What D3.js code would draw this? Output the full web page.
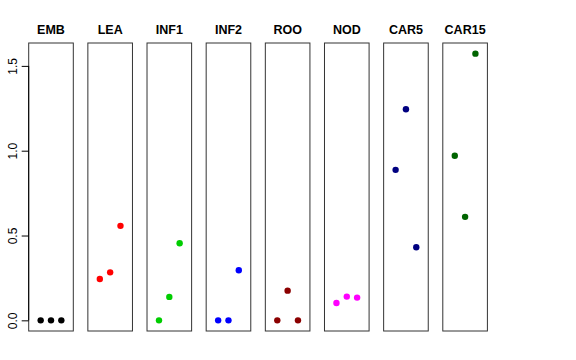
<!DOCTYPE html>
<html>
<head>
  <script src="https://d3js.org/d3.v7.min.js"></script>
  <style>
    body { margin: 0; background: #fff; }
    text { font-family: "Liberation Sans", Arial, Helvetica, sans-serif; }
  </style>
</head>
<body>
  <div id="chart"></div>

  <script>
    var categories = ["EMB", "LEA", "INF1", "INF2", "ROO", "NOD", "CAR5", "CAR15"];
    var colors = ["#000000", "#ff0000", "#00cd00", "#0000ff", "#8b0000", "#ff00ff", "#000080", "#006400"];
    // three replicate values per tissue, plotted at x = 1, 2, 3
    var values = [
      [0, 0, 0],
      [0.244, 0.283, 0.557],
      [0, 0.138, 0.454],
      [0, 0, 0.295],
      [0, 0.175, 0],
      [0.102, 0.140, 0.134],
      [0.887, 1.244, 0.431],
      [0.970, 0.610, 1.572]
    ];
    var yTicks = [0, 0.5, 1.0, 1.5];

    var width = 576, height = 360;
    var plotTop = 43, plotBottom = 331;

    var svg = d3.select("#chart")
      .append("svg")
      .attr("width", width)
      .attr("height", height);

    var panel = d3.scaleBand()
      .domain(categories)
      .range([28.7, 487.4])
      .paddingInner(0.246)
      .paddingOuter(0);

    var yMax = d3.max(values, function(v) { return d3.max(v); });
    var pad = yMax * 0.04;
    var y = d3.scaleLinear()
      .domain([-pad, yMax + pad])
      .range([plotBottom, plotTop]);

    categories.forEach(function(cat, i) {
      var left = panel(cat);
      var x = d3.scaleLinear()
        .domain([-0.16, 4.16])
        .range([left, left + panel.bandwidth()]);

      var g = svg.append("g");

      g.append("rect")
        .attr("x", left)
        .attr("y", plotTop)
        .attr("width", panel.bandwidth())
        .attr("height", plotBottom - plotTop)
        .attr("fill", "none")
        .attr("stroke", "#333")
        .attr("stroke-width", 1);

      g.append("text")
        .attr("x", left + panel.bandwidth() / 2)
        .attr("y", 34)
        .attr("text-anchor", "middle")
        .attr("font-weight", "bold")
        .attr("font-size", "12.5px")
        .text(cat);

      g.selectAll("circle")
        .data(values[i])
        .enter()
        .append("circle")
        .attr("cx", function(d, j) { return x(j + 1); })
        .attr("cy", function(d) { return y(d); })
        .attr("r", 3.2)
        .attr("fill", colors[i]);
    });

    // y axis on the first panel only
    var axis = svg.append("g")
      .attr("transform", "translate(" + panel(categories[0]) + ",0)")
      .call(d3.axisLeft(y)
        .tickValues(yTicks)
        .tickSize(7)
        .tickPadding(0)
        .tickFormat(d3.format(".1f")));

    axis.select(".domain")
      .attr("d", "M0," + y(yTicks[0]) + "V" + y(yTicks[yTicks.length - 1]))
      .attr("stroke", "#000");

    axis.selectAll(".tick line").attr("stroke", "#000");

    axis.selectAll(".tick text")
      .attr("font-family", "Liberation Sans, Arial, sans-serif")
      .attr("font-size", "12px")
      .attr("fill", "#000")
      .attr("text-anchor", "middle")
      .attr("transform", "rotate(-90)")
      .attr("x", 0)
      .attr("y", -12)
      .attr("dy", 0);
  </script>
</body>
</html>
